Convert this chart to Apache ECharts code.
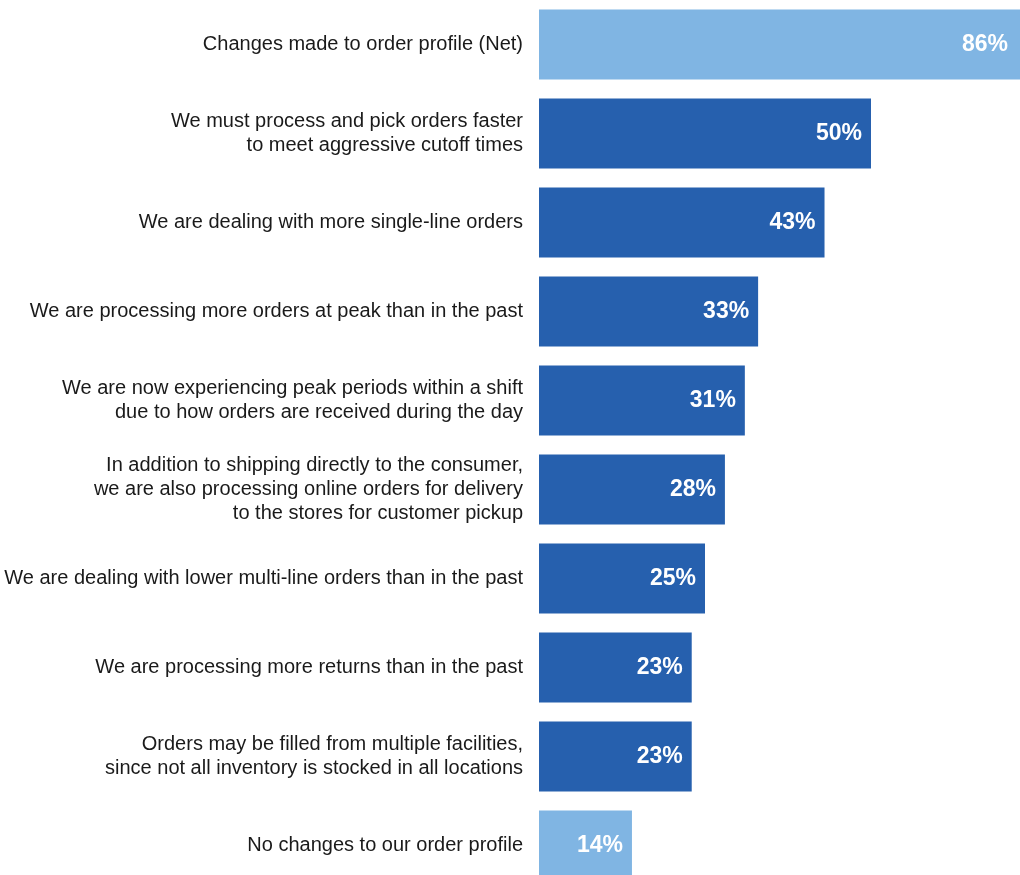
<!DOCTYPE html>
<html>
<head>
<meta charset="utf-8">
<script src="https://cdn.jsdelivr.net/npm/echarts@6/dist/echarts.min.js"></script>
<style>
  html, body { margin: 0; padding: 0; background: #fff; }
  #main { width: 1020px; height: 875px; }
</style>
</head>
<body>
<div id="main"></div>
<script>
const categories = [
  'Changes made to order profile (Net)',
  'We must process and pick orders faster\nto meet aggressive cutoff times',
  'We are dealing with more single-line orders',
  'We are processing more orders at peak than in the past',
  'We are now experiencing peak periods within a shift\ndue to how orders are received during the day',
  'In addition to shipping directly to the consumer,\nwe are also processing online orders for delivery\nto the stores for customer pickup',
  'We are dealing with lower multi-line orders than in the past',
  'We are processing more returns than in the past',
  'Orders may be filled from multiple facilities,\nsince not all inventory is stocked in all locations',
  'No changes to our order profile'
];
const values = [86, 50, 43, 33, 31, 28, 25, 23, 23, 14];
// net rows drawn in the lighter blue
const netRows = [0, 9];

const darkBlue = '#2660ae';
const lightBlue = '#80b5e3';

const chart = echarts.init(document.getElementById('main'));

const seriesData = values.map((v, i) => {
  const item = {
    value: v,
    itemStyle: { color: netRows.includes(i) ? lightBlue : darkBlue }
  };
  if (i === 0) {
    // the net bar runs past the page edge, so keep its label in view
    item.label = { position: [469, '50%'], align: 'right', verticalAlign: 'middle' };
  }
  return item;
});

chart.setOption({
  animation: false,
  grid: {
    left: 539, top: 0, width: 664, height: 890,
    containLabel: false,
    outerBoundsMode: 'none'
  },
  xAxis: {
    type: 'value',
    min: 0,
    max: 100,
    show: false
  },
  yAxis: {
    type: 'category',
    inverse: true,
    data: categories,
    axisLine: { show: false },
    axisTick: { show: false },
    axisLabel: {
      margin: 16,
      fontFamily: 'Liberation Sans, Arial, sans-serif',
      fontSize: 20,
      lineHeight: 24,
      color: '#1a1a1a',
      align: 'right'
    }
  },
  series: [
    {
      type: 'bar',
      data: seriesData,
      barWidth: 70,
      label: {
        show: true,
        position: 'insideRight',
        distance: 9,
        formatter: '{c}%',
        color: '#fff',
        fontFamily: 'Liberation Sans, Arial, sans-serif',
        fontWeight: 'bold',
        fontSize: 23
      }
    }
  ]
});
</script>
</body>
</html>
